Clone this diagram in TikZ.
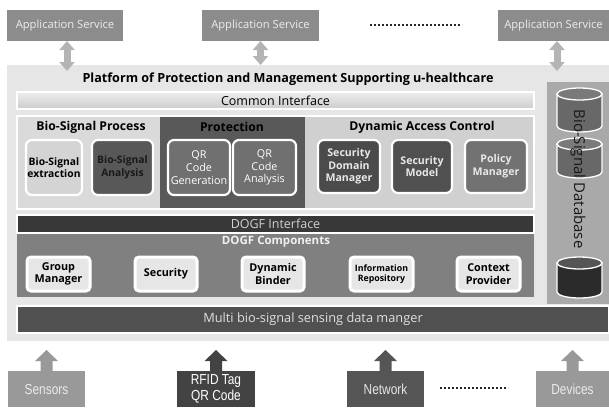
\documentclass[tikz,border=0pt]{standalone}
\usepackage{fontspec}
\setmainfont{Open Sans}
\newfontfamily\narrowfont[FakeStretch=0.82]{Liberation Sans}
\usetikzlibrary{calc,arrows.meta}
\definecolor{appgrey}{HTML}{8C8C8C}
\definecolor{apptext}{HTML}{EDEDED}
\definecolor{dblgrey}{HTML}{B4B4B4}
\definecolor{platbg}{HTML}{E6E6E6}
\definecolor{bspbg}{HTML}{DADADA}
\definecolor{protbg}{HTML}{595959}
\definecolor{dacbg}{HTML}{D0D0D0}
\definecolor{bsefill}{HTML}{D4D4D4}
\definecolor{bsafill}{HTML}{585858}
\definecolor{qrfill}{HTML}{707070}
\definecolor{sdmfill}{HTML}{4B4B4B}
\definecolor{smfill}{HTML}{505050}
\definecolor{pmfill}{HTML}{727272}
\definecolor{dogfif}{HTML}{383838}
\definecolor{dogfcomp}{HTML}{808080}
\definecolor{compfill}{HTML}{E6E6E6}
\definecolor{multifill}{HTML}{505050}
\definecolor{dbcol}{HTML}{A9A9A9}
\definecolor{cylbody}{HTML}{686868}
\definecolor{cylcap}{HTML}{7A7A7A}
\definecolor{cyldark}{HTML}{2B2B2B}
\definecolor{cyldarkcap}{HTML}{555555}
\definecolor{lightsrc}{HTML}{999999}
\definecolor{rfidfill}{HTML}{434343}
\definecolor{netfill}{HTML}{555555}
\definecolor{softwhite}{HTML}{E8E8E8}
\newcommand\bx[7]{\node[#6, minimum width={(#4)-(#2)}, minimum height={(#5)-(#3)}, inner sep=0pt, outer sep=0pt] (#1) at ({((#2)+(#4))/2},{((#3)+(#5))/2}) {#7};}
\newcommand\uparr[2]{\fill[#2] ($(#1.north)+(-6,0)$) -- ($(#1.north)+(-6,-10)$) -- ($(#1.north)+(-11.5,-10)$) -- ($(#1.north)+(0,-21)$) -- ($(#1.north)+(11.5,-10)$) -- ($(#1.north)+(6,-10)$) -- ($(#1.north)+(6,0)$) -- cycle;}
\newcommand\cyl[6]{%
  \path[fill=#5, draw=white, line width=1.3pt] (#1,#3) -- (#1,#4) arc[start angle=180, end angle=0, x radius={((#2)-(#1))/2}, y radius=6] -- (#2,#3) -- cycle;
  \draw[fill=#6, draw=white, line width=1.3pt] ({((#1)+(#2))/2},#3) ellipse[x radius={((#2)-(#1))/2}, y radius=6];}
\tikzset{
  appbox/.style={fill=appgrey, text=apptext, font=\fontsize{11.2}{13}\selectfont},
  dblarr/.style={draw=dblgrey, line width=7pt, {Triangle[width=15pt,length=9pt]}-{Triangle[width=15pt,length=9pt]}},
  sectitle/.style={font=\bfseries\fontsize{12.2}{14}\selectfont, text=black},
  procbox/.style={draw=white, line width=2.2pt, rounded corners=6pt, align=center},
  compbox/.style={fill=compfill, draw=white, line width=3pt, rounded corners=4pt, align=center, text=black, font=\bfseries\fontsize{10.8}{12.5}\selectfont},
  srcbox/.style={font=\narrowfont\fontsize{14.5}{15.5}\selectfont, align=center},
  dots/.style={line width=2.2pt, dash pattern=on 1.6pt off 2.4pt, black!85}
}
\begin{document}
\begin{tikzpicture}[x=1pt,y=-1pt]
\useasboundingbox (0,0) rectangle (609,407);
% application services
\bx{app1}{7}{10}{123}{41}{appbox}{Application Service}
\bx{app2}{202}{10}{319}{41}{appbox}{Application Service}
\bx{app3}{498}{10}{609}{41}{appbox}{Application Service}
\draw[dots] (370,25) -- (462,25);
% platform
\bx{plat}{7}{65}{609}{341}{fill=platbg}{}
\draw[dblarr] (app1.south -| 67,0) -- (67,71);
\draw[dblarr] (app2.south) -- (app2.south |- plat.north);
\draw[dblarr] (app3.south -| 557,0) -- (557,71);
\node[font=\bfseries\fontsize{12.6}{14}\selectfont] (title) at (288,79) {Platform of Protection and Management Supporting u-healthcare};
% common interface
\bx{ci}{17}{92}{534}{109}{top color=white!93!black, bottom color=white!80!black, draw=white, line width=1.2pt, font=\fontsize{12.5}{14}\selectfont}{Common Interface}
% process frame
\bx{bsp}{17}{116}{160}{209}{fill=bspbg}{}
\bx{prot}{160}{116}{305}{209}{fill=protbg}{}
\bx{dac}{305}{116}{534}{209}{fill=dacbg}{}
\draw[white, line width=2pt] (bsp.north west) rectangle (dac.south east);
\node[sectitle] (bspt) at (91,127) {Bio-Signal Process};
\node[sectitle] (prott) at (232,127) {Protection};
\node[sectitle] (dact) at (422,127) {Dynamic Access Control};
\bx{bse}{26}{140}{82}{195}{procbox, fill=bsefill, text=black, font=\bfseries\fontsize{10.3}{12.5}\selectfont}{Bio-Signal\\extraction}
\bx{bsa}{92}{140}{153}{195}{procbox, fill=bsafill, text=black!90, font=\bfseries\fontsize{10.3}{12.5}\selectfont}{Bio-Signal\\Analysis}
\bx{qrg}{168}{140}{230}{195}{procbox, fill=qrfill, text=white, font=\fontsize{10.8}{12.8}\selectfont}{QR\\Code\\Generation}
\bx{qra}{233}{140}{296}{195}{procbox, fill=qrfill, text=white, font=\fontsize{10.8}{12.8}\selectfont}{QR\\Code\\Analysis}
\bx{sdm}{318}{140}{380}{193}{procbox, fill=sdmfill, text=softwhite, font=\bfseries\fontsize{10.6}{12.6}\selectfont}{Security\\Domain\\Manager}
\bx{sm}{392}{140}{452}{193}{procbox, fill=smfill, text=softwhite, font=\bfseries\fontsize{10.6}{12.8}\selectfont}{Security\\Model}
\bx{pm}{465}{140}{527}{193}{procbox, fill=pmfill, text=softwhite, font=\bfseries\fontsize{10.6}{12.8}\selectfont}{Policy\\Manager}
% DOGF
\bx{dogfc}{17}{233}{534}{297}{fill=dogfcomp}{}
\bx{dogfi}{17}{215}{534}{233}{fill=dogfif, draw=white, line width=1.2pt, text=white!82!black, font=\fontsize{12.5}{14}\selectfont}{DOGF Interface}
\node[font=\bfseries\fontsize{11.5}{13}\selectfont, text=white!94!black] (dogft) at (276,242) {DOGF Components};
\bx{gm}{27}{257}{90}{291}{compbox}{Group\\Manager}
\bx{sec}{135}{257}{197}{291}{compbox}{Security}
\bx{db}{242}{257}{304}{291}{compbox}{Dynamic\\Binder}
\bx{ir}{350}{257}{413}{291}{compbox, font=\bfseries\fontsize{8.8}{10.5}\selectfont}{Information\\Repository}
\bx{cp}{457}{257}{520}{291}{compbox}{Context\\Provider}
% multi bar
\bx{multi}{17}{306}{609}{333}{fill=multifill, draw=white, line width=1.4pt, text=white!88!black, font=\fontsize{12.8}{14}\selectfont}{Multi bio-signal sensing data manger}
% database column
\bx{dbc}{547}{82}{609}{304}{fill=dbcol}{}
\cyl{557}{602}{94}{126}{cylbody}{cylcap}
\cyl{557}{602}{144}{172}{cylbody}{cylcap}
\cyl{557}{602}{263}{292}{cyldark}{cyldarkcap}
\node[rotate=-90, font=\fontsize{15}{17}\selectfont, text=black!90] (dbt) at (578,179) {Bio-Signal Database};
% sources
\bx{sens}{8}{371}{85}{407}{srcbox, fill=lightsrc, text=white!92!black}{Sensors}
\bx{rfid}{177}{371}{255}{407}{srcbox, fill=rfidfill, text=white}{RFID Tag\\QR Code}
\bx{net}{347}{371}{424}{407}{srcbox, fill=netfill, text=white!90!black}{Network}
\bx{dev}{536}{371}{609}{407}{srcbox, fill=lightsrc, text=white!92!black}{Devices}
\uparr{sens}{lightsrc}
\uparr{rfid}{rfidfill}
\uparr{net}{netfill}
\uparr{dev}{lightsrc}
\draw[dots] (440,388) -- (508,388);
\end{tikzpicture}
\end{document}
